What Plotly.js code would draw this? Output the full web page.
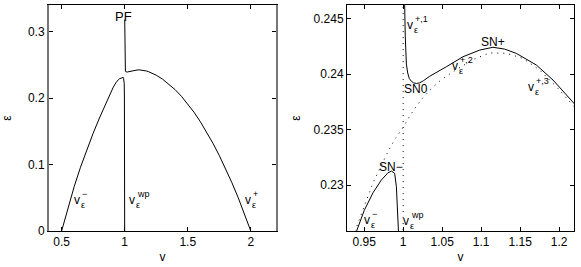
<!DOCTYPE html>
<html><head><meta charset="utf-8">
<script src="https://cdn.plot.ly/plotly-3.0.1.min.js"></script>
<style>body{margin:0;background:#fff}#c{width:581px;height:267px}</style>
</head><body><div id="c"></div>
<script>
// lower solid branch: v_eps^- rising to SN-, then v_eps^wp falling to v=1
const vMinus   = [0.5, 0.55, 0.6, 0.65, 0.7, 0.75, 0.8, 0.85, 0.88, 0.91, 0.93, 0.94, 0.95, 0.9613, 0.972, 0.9805, 0.985, 0.9891, 0.9913, 0.9933, 0.9946, 0.9965, 0.998, 0.9993, 1.0];
const epsMinus = [0, 0.035, 0.067, 0.096, 0.122, 0.147, 0.17, 0.1915, 0.2045, 0.2165, 0.2228, 0.2258, 0.2277, 0.2293, 0.23045, 0.2311, 0.23126, 0.23105, 0.22985, 0.22775, 0.2258, 0.222, 0.2, 0.1, 0];
// upper solid branch: from PF down, SN0, SN+, v_eps^+ to v=2
const vPlus   = [1.0005, 1.0008, 1.0012, 1.0017, 1.0019, 1.0027, 1.0041, 1.0058, 1.0078, 1.0105, 1.0135, 1.017, 1.021, 1.026, 1.034, 1.0554, 1.0767, 1.0981, 1.1151, 1.13, 1.1451, 1.1708, 1.1921, 1.219, 1.25, 1.3, 1.35, 1.4, 1.45, 1.5, 1.55, 1.6, 1.65, 1.7, 1.75, 1.8, 1.85, 1.9, 1.95, 2.0];
const epsPlus = [0.318, 0.29, 0.265, 0.2505, 0.2462, 0.2434, 0.2409, 0.2401, 0.2396, 0.23935, 0.2392, 0.23915, 0.2392, 0.2394, 0.2398, 0.24066, 0.24156, 0.24216, 0.24241, 0.24225, 0.24186, 0.24081, 0.23946, 0.23736, 0.2344, 0.2285, 0.2212, 0.2126, 0.2027, 0.1915, 0.1787, 0.1645, 0.1490, 0.1320, 0.1137, 0.0940, 0.0728, 0.0503, 0.0264, 0];
// dotted reference curve (right panel)
const vRef   = [0.938, 0.9506, 0.9613, 0.9805, 0.9891, 1.0, 1.0083, 1.0169, 1.0233, 1.0362, 1.049, 1.066, 1.0895, 1.1109, 1.1323, 1.1536, 1.175, 1.1964, 1.22];
const epsRef = [0.2258, 0.2282, 0.2302, 0.2330, 0.2341, 0.2352, 0.2362, 0.2371, 0.2377, 0.2387, 0.2395, 0.2403, 0.2413, 0.2419, 0.24187, 0.24141, 0.24036, 0.23886, 0.2370];
// dotted vertical v = 1
const vWp   = [1, 1];
const epsWp = [0, 0.34];

const solid = {color:'#000', width:1};
const dotted = {color:'#000', width:1, dash:'1px,5px'};
const traces = [
  {x:vMinus, y:epsMinus, mode:'lines', line:solid, xaxis:'x', yaxis:'y'},
  {x:vPlus, y:epsPlus, mode:'lines', line:solid, xaxis:'x', yaxis:'y'},
  {x:vWp, y:epsWp, mode:'lines', line:dotted, xaxis:'x2', yaxis:'y2'},
  {x:vRef, y:epsRef, mode:'lines', line:dotted, xaxis:'x2', yaxis:'y2'},
  {x:vMinus, y:epsMinus, mode:'lines', line:solid, xaxis:'x2', yaxis:'y2'},
  {x:vPlus, y:epsPlus, mode:'lines', line:solid, xaxis:'x2', yaxis:'y2'}
];

const F = 'Liberation Sans, Arial, sans-serif';
const ax = (extra) => Object.assign({
  showgrid:false, zeroline:false, ticks:'inside', ticklen:4, tickcolor:'#000',
  mirror:'ticks', showline:true, linecolor:'#000', linewidth:1,
  tickfont:{family:F, size:12, color:'#000'}
}, extra);

const ann = [];
function txt(xr, yr, x, y, t, size, xs, ys, anchor) {
  ann.push({xref:xr, yref:yr, x:x, y:y, text:t, showarrow:false,
    font:{family:F, size:size, color:'#000'}, xshift:xs||0, yshift:ys||0,
    xanchor:anchor||'center', yanchor:'middle'});
}
function lab(xr, yr, x, y, sup) {
  txt(xr, yr, x, y, 'v', 12);
  txt(xr, yr, x, y, sup, 9, 3, 6, 'left');
  txt(xr, yr, x, y, 'ε', 9, 2, -5, 'left');
}
txt('x','y',0.991,0.323,'PF',13);
lab('x','y',0.623,0.047,'−');
lab('x','y',1.058,0.047,'wp');
lab('x','y',1.981,0.047,'+');
lab('x2','y2',1.0083,0.24441,'+,1');
lab('x2','y2',1.066,0.24072,'+,2');
lab('x2','y2',1.1635,0.2388,'+,3');
lab('x2','y2',0.9536,0.22685,'−');
lab('x2','y2',1.0041,0.22678,'wp');
txt('x2','y2',1.0169,0.23862,'SN0',12);
txt('x2','y2',1.1151,0.24291,'SN+',12);
txt('x2','y2',0.9849,0.23165,'SN−',12);

const layout = {
  width:581, height:267, margin:{l:0,r:0,t:0,b:0},
  paper_bgcolor:'#fff', plot_bgcolor:'#fff', showlegend:false,
  xaxis: ax({domain:[49/581, 276/581], range:[0.4, 2.2], dtick:0.5, tick0:0,
    title:{text:'v', font:{family:F, size:12, color:'#000'}, standoff:4}}),
  yaxis: ax({domain:[36/267, 262/267], range:[0, 0.34], dtick:0.1, tick0:0,
    linecolor:'#777', linewidth:2,
    title:{text:'ε', font:{family:F, size:12, color:'#000'}, standoff:14}}),
  xaxis2: ax({domain:[347/581, 574/581], range:[0.928, 1.219], dtick:0.05, tick0:0, anchor:'y2',
    title:{text:'v', font:{family:F, size:12, color:'#000'}, standoff:4}}),
  yaxis2: ax({domain:[36/267, 262/267], range:[0.22586, 0.24622], dtick:0.005, tick0:0, anchor:'x2',
    title:{text:'ε', font:{family:F, size:12, color:'#000'}, standoff:10}}),
  annotations: ann
};
Plotly.newPlot('c', traces, layout, {staticPlot:true});
</script></body></html>
